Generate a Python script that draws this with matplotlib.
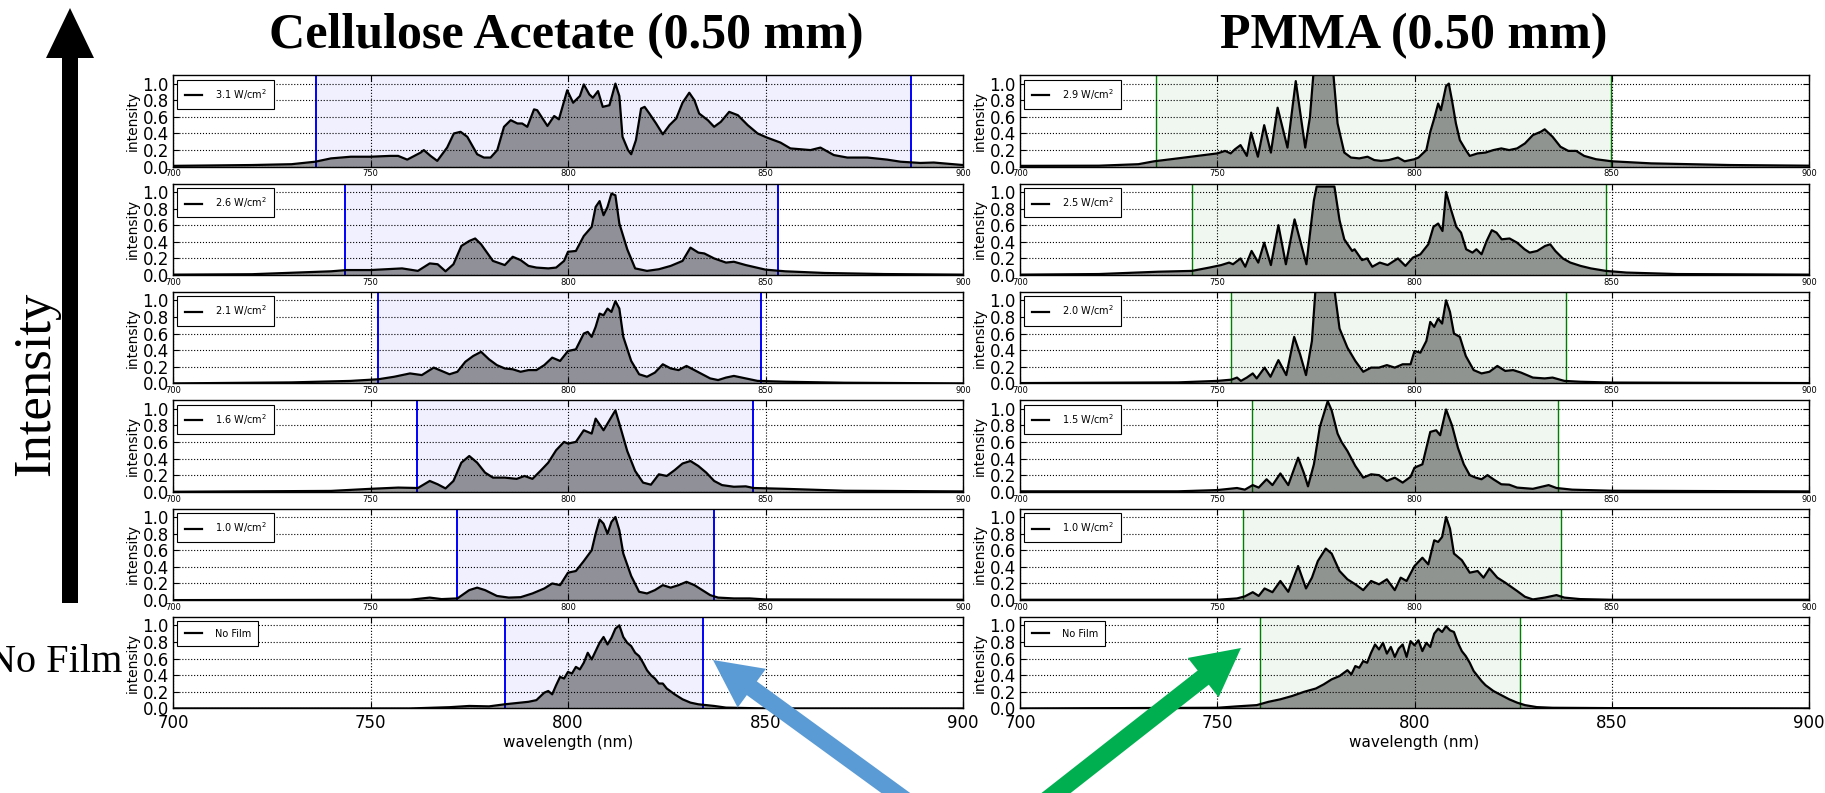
import numpy as np
import matplotlib
matplotlib.use('Agg')
import matplotlib.pyplot as plt
from matplotlib.patches import FancyArrow

# Emission spectra, (wavelength nm, normalised intensity)
# Cellulose acetate film, top row = highest power
ca_31 = [(700, 0.01), (710, 0.015), (720, 0.02), (730, 0.03), (736, 0.06), (740, 0.10), (745, 0.12),
         (750, 0.12), (755, 0.13), (757, 0.13), (759.3, 0.085), (762.7, 0.17), (763.5, 0.20), (765.2, 0.13),
         (766.9, 0.07), (769.4, 0.23), (771.1, 0.40), (772.8, 0.42), (774.5, 0.36), (777, 0.15), (778.7, 0.11),
         (780.4, 0.11), (782.1, 0.20), (783.8, 0.48), (785.5, 0.56), (787.2, 0.52), (788.4, 0.52), (789.7, 0.48),
         (791.4, 0.69), (792.2, 0.68), (794.8, 0.49), (796.5, 0.61), (797.7, 0.57), (798.6, 0.72), (799.8, 0.92),
         (801.3, 0.77), (803, 0.85), (804, 0.99), (805.4, 0.87), (806.3, 0.83), (807.6, 0.91), (808.8, 0.72),
         (810.5, 0.74), (812, 1.0), (813, 0.85), (813.8, 0.36), (815.2, 0.20), (816, 0.15), (817.2, 0.32),
         (818.5, 0.70), (819.4, 0.72), (820.6, 0.64), (822.3, 0.52), (824, 0.39), (825.7, 0.50), (827.4, 0.58),
         (829, 0.77), (830.7, 0.89), (832, 0.80), (833.2, 0.64), (835.4, 0.56), (837, 0.48), (838.7, 0.54),
         (840.8, 0.66), (843, 0.62), (845.5, 0.50), (848, 0.40), (850.4, 0.35), (853.8, 0.29), (856.3, 0.22),
         (861.4, 0.20), (863.9, 0.23), (867.3, 0.14), (870.7, 0.11), (875.8, 0.11), (880.8, 0.085),
         (884.2, 0.06), (889.2, 0.045), (892.6, 0.05), (900, 0.02)]
ca_26 = [(700, 0.005), (720, 0.01), (740, 0.045), (744, 0.06), (750, 0.06), (758, 0.08), (762, 0.05),
         (765, 0.14), (767, 0.13), (769, 0.045), (771, 0.13), (773, 0.35), (775, 0.41), (776.5, 0.44),
         (778, 0.37), (781, 0.17), (784, 0.12), (786, 0.22), (788, 0.18), (790, 0.11), (792, 0.09), (795, 0.08),
         (797, 0.09), (799, 0.17), (800, 0.28), (802, 0.29), (804, 0.47), (806, 0.58), (807, 0.82), (808, 0.89),
         (809, 0.72), (810, 0.82), (811, 0.98), (812, 0.96), (813, 0.62), (815, 0.31), (817, 0.08), (820, 0.05),
         (823, 0.07), (826, 0.11), (829, 0.17), (831, 0.33), (833, 0.27), (834.5, 0.26), (837, 0.20),
         (840, 0.15), (842, 0.16), (845, 0.12), (850, 0.065), (855, 0.045), (865, 0.025), (880, 0.012),
         (900, 0.005)]
ca_21 = [(700, 0.0), (730, 0.012), (745, 0.03), (752, 0.05), (756, 0.08), (760, 0.12), (763, 0.10),
         (766, 0.19), (768, 0.15), (770, 0.11), (772, 0.14), (774, 0.26), (776, 0.33), (778, 0.38), (780, 0.29),
         (782, 0.22), (784, 0.18), (786, 0.17), (788, 0.14), (790, 0.16), (792, 0.16), (794, 0.22), (796, 0.31),
         (798, 0.27), (800, 0.39), (802, 0.41), (804, 0.60), (805, 0.62), (806, 0.56), (807, 0.68), (808, 0.84),
         (809, 0.82), (810, 0.90), (811, 0.86), (812, 0.99), (813, 0.90), (814, 0.56), (816, 0.27), (818, 0.11),
         (820, 0.08), (822, 0.13), (824, 0.23), (826, 0.18), (828, 0.16), (830, 0.21), (832, 0.16), (834, 0.11),
         (836, 0.06), (838, 0.04), (840, 0.07), (842, 0.09), (844, 0.07), (848, 0.03), (855, 0.02),
         (870, 0.008), (900, 0.0)]
ca_16 = [(700, 0.0), (740, 0.01), (750, 0.035), (757, 0.05), (762, 0.045), (765, 0.13), (767, 0.09),
         (769, 0.04), (771, 0.13), (773, 0.35), (775, 0.43), (777, 0.35), (779, 0.23), (781, 0.17), (784, 0.17),
         (787, 0.155), (789, 0.19), (791, 0.155), (793, 0.25), (795, 0.35), (797, 0.50), (799, 0.60),
         (800, 0.58), (802, 0.60), (804, 0.74), (806, 0.70), (807, 0.88), (809, 0.74), (811, 0.90), (812, 0.98),
         (813, 0.82), (815, 0.49), (817, 0.25), (819, 0.11), (821, 0.085), (823, 0.21), (825, 0.19),
         (827, 0.26), (829, 0.34), (831, 0.37), (833, 0.31), (835, 0.23), (837, 0.13), (839, 0.08), (842, 0.06),
         (845, 0.065), (847, 0.045), (855, 0.035), (870, 0.012), (900, 0.004)]
ca_10 = [(700, 0.0), (760, 0.004), (765, 0.03), (768, 0.012), (772, 0.02), (775, 0.12), (777, 0.15),
         (779, 0.12), (782, 0.05), (785, 0.03), (788, 0.035), (791, 0.08), (794, 0.14), (796, 0.20),
         (798, 0.18), (800, 0.33), (802, 0.35), (804, 0.47), (806, 0.60), (807, 0.80), (808, 0.97), (809, 0.92),
         (810, 0.80), (811, 0.94), (812, 1.0), (813, 0.84), (814, 0.56), (816, 0.29), (818, 0.10), (820, 0.08),
         (822, 0.12), (824, 0.18), (826, 0.15), (828, 0.18), (830, 0.22), (832, 0.18), (834, 0.12),
         (836, 0.06), (838, 0.03), (842, 0.02), (846, 0.02), (850, 0.008), (900, 0.004)]
ca_00 = [(700, 0.0), (760, 0.0), (770, 0.015), (775, 0.03), (780, 0.025), (784, 0.05), (788, 0.07),
         (790, 0.08), (792, 0.10), (794, 0.19), (795, 0.21), (796, 0.17), (797, 0.28), (798, 0.38), (799, 0.36),
         (800, 0.44), (801, 0.42), (802, 0.50), (803, 0.47), (804, 0.55), (805, 0.67), (806, 0.59), (807, 0.69),
         (808, 0.79), (809, 0.86), (810, 0.77), (811, 0.85), (812, 0.96), (813, 1.0), (814, 0.86), (815, 0.79),
         (816, 0.75), (817, 0.67), (818, 0.63), (819, 0.55), (820, 0.46), (821, 0.40), (822, 0.36), (823, 0.30),
         (824, 0.30), (825, 0.24), (827, 0.17), (829, 0.11), (831, 0.07), (833, 0.05), (835, 0.04), (837, 0.03),
         (840, 0.01), (850, 0.0), (900, 0.0)]

# PMMA film
pm_29 = [(700, 0.01), (720, 0.012), (730, 0.03), (734, 0.065), (740, 0.10), (745, 0.13), (750, 0.16),
         (752, 0.19), (753.4, 0.16), (754.5, 0.21), (755.9, 0.26), (757.5, 0.13), (758.6, 0.41), (760.3, 0.12),
         (761.9, 0.50), (763.6, 0.17), (765.3, 0.71), (767.8, 0.23), (769.9, 1.03), (772.3, 0.23),
         (773.5, 0.60), (774.6, 1.25), (779.2, 1.25), (780.5, 0.52), (782.2, 0.17), (783.9, 0.11), (786, 0.10),
         (788.1, 0.12), (789.8, 0.08), (791.5, 0.07), (793.5, 0.08), (795.8, 0.11), (797.5, 0.065), (800, 0.09),
         (801, 0.11), (803, 0.20), (804, 0.42), (805, 0.58), (806, 0.76), (806.7, 0.68), (808, 0.97),
         (808.7, 1.0), (809.5, 0.80), (810.5, 0.52), (811.5, 0.32), (813, 0.20), (814, 0.13), (816, 0.16),
         (818, 0.17), (820, 0.20), (822, 0.22), (824, 0.20), (826, 0.22), (828, 0.28), (830, 0.38), (832, 0.42),
         (833, 0.45), (835, 0.36), (837, 0.24), (839, 0.19), (841, 0.19), (843, 0.13), (846, 0.09),
         (850, 0.065), (860, 0.04), (880, 0.02), (900, 0.012)]
pm_25 = [(700, 0.005), (720, 0.012), (735, 0.04), (743.6, 0.05), (748, 0.09), (751, 0.12), (753, 0.15),
         (754, 0.13), (755.9, 0.20), (757.1, 0.10), (758.7, 0.29), (760.4, 0.15), (761.9, 0.39), (763.6, 0.12),
         (765.5, 0.60), (767.4, 0.13), (769.6, 0.67), (772.6, 0.13), (774.5, 0.90), (775.2, 1.065),
         (779.7, 1.065), (781, 0.66), (782.2, 0.43), (784.2, 0.29), (784.8, 0.31), (786.7, 0.18), (788, 0.20),
         (789.3, 0.10), (791.2, 0.15), (793.2, 0.12), (795.8, 0.20), (797.7, 0.11), (799.6, 0.21),
         (801.5, 0.25), (803.5, 0.37), (804.8, 0.58), (806, 0.62), (807.1, 0.53), (808, 1.0), (809.3, 0.78),
         (810.6, 0.58), (811.8, 0.51), (813.1, 0.31), (814.7, 0.27), (815.7, 0.31), (817, 0.25), (818.3, 0.41),
         (819.6, 0.54), (820.8, 0.51), (822.1, 0.43), (824.1, 0.44), (826, 0.39), (827.9, 0.31), (829.2, 0.27),
         (831.1, 0.29), (833.1, 0.35), (834.4, 0.37), (835.7, 0.29), (837.6, 0.20), (839.5, 0.15),
         (842.1, 0.11), (844.7, 0.08), (848.5, 0.05), (853.7, 0.03), (866.5, 0.012), (900, 0.005)]
pm_20 = [(700, 0.004), (740, 0.012), (750, 0.03), (753.6, 0.045), (755, 0.07), (756, 0.03), (757.5, 0.07),
         (759, 0.12), (760, 0.06), (762, 0.19), (763.5, 0.08), (765.5, 0.28), (767.5, 0.10), (769.5, 0.56),
         (771, 0.35), (772.5, 0.10), (774, 0.51), (775, 1.2), (779.5, 1.2), (781, 0.66), (783, 0.43),
         (785, 0.27), (787, 0.14), (789, 0.19), (791, 0.19), (793, 0.22), (795, 0.19), (797, 0.23), (799, 0.23),
         (800, 0.39), (801.5, 0.37), (803, 0.51), (804, 0.74), (805, 0.68), (806, 0.78), (807, 0.72),
         (808, 1.0), (809, 0.86), (810, 0.60), (811.5, 0.56), (813, 0.33), (815, 0.16), (817, 0.12), (819, 0.14),
         (821, 0.21), (823, 0.15), (825, 0.16), (827, 0.13), (830, 0.07), (833, 0.06), (835, 0.07), (838, 0.03),
         (842, 0.02), (850, 0.01), (900, 0.004)]
pm_15 = [(700, 0.005), (740, 0.005), (750, 0.02), (755, 0.045), (757, 0.025), (759, 0.08), (760.5, 0.05),
         (762.5, 0.15), (764, 0.08), (766, 0.22), (768, 0.08), (770.5, 0.41), (772, 0.22), (773, 0.065),
         (774.5, 0.33), (776, 0.78), (778, 1.09), (779, 0.98), (780.5, 0.70), (781.5, 0.60), (783, 0.49),
         (785, 0.31), (787, 0.17), (789, 0.21), (791, 0.20), (793, 0.13), (795, 0.17), (797, 0.11), (799, 0.18),
         (800, 0.29), (802, 0.33), (804, 0.72), (805.5, 0.74), (806.5, 0.68), (808, 0.99), (809.5, 0.80),
         (811, 0.53), (812.5, 0.33), (814, 0.20), (815.5, 0.17), (817, 0.15), (818.5, 0.20), (820, 0.15),
         (822, 0.09), (824, 0.085), (826, 0.05), (830, 0.035), (834, 0.08), (836, 0.045), (840, 0.025),
         (850, 0.012), (900, 0.004)]
pm_10 = [(700, 0.004), (750, 0.004), (755, 0.02), (757, 0.045), (759, 0.095), (760.5, 0.05), (762, 0.14),
         (764, 0.095), (766, 0.23), (768, 0.10), (770.5, 0.41), (772.5, 0.14), (774, 0.27), (775.5, 0.47),
         (777.5, 0.62), (779, 0.56), (781, 0.35), (783, 0.25), (785, 0.19), (787, 0.12), (789, 0.23),
         (791, 0.19), (793, 0.25), (795, 0.12), (796.5, 0.27), (798, 0.23), (800, 0.41), (802, 0.51),
         (803.5, 0.43), (805, 0.72), (806, 0.70), (807, 0.76), (808, 1.0), (809, 0.86), (810, 0.56), (812, 0.48),
         (814, 0.33), (816, 0.35), (817.5, 0.27), (819, 0.38), (821, 0.27), (823, 0.21), (826, 0.11),
         (828, 0.04), (830, 0.008), (833, 0.03), (836, 0.06), (838, 0.03), (842, 0.012), (850, 0.004),
         (900, 0.004)]
pm_00 = [(700, 0.0), (750, 0.008), (755, 0.025), (760, 0.04), (763, 0.08), (766, 0.11), (769, 0.15),
         (772, 0.20), (775, 0.24), (777, 0.29), (779, 0.35), (781, 0.39), (783, 0.46), (784, 0.41), (785, 0.51),
         (786, 0.49), (787, 0.57), (788, 0.55), (789, 0.67), (790, 0.77), (791, 0.71), (792, 0.79), (793, 0.66),
         (794, 0.74), (795, 0.62), (796, 0.72), (797, 0.77), (798, 0.62), (799, 0.81), (800, 0.76), (801, 0.82),
         (802, 0.69), (803, 0.79), (804, 0.74), (805, 0.90), (806, 0.96), (807, 0.92), (808, 0.99), (809, 0.94),
         (810, 0.92), (811, 0.79), (812, 0.69), (813, 0.63), (814, 0.55), (815, 0.45), (816, 0.39), (817, 0.33),
         (818, 0.28), (820, 0.21), (822, 0.16), (824, 0.11), (826, 0.07), (828, 0.04), (831, 0.016),
         (835, 0.008), (850, 0.004), (900, 0.0)]

ca_spectra = [ca_31, ca_26, ca_21, ca_16, ca_10, ca_00]
pm_spectra = [pm_29, pm_25, pm_20, pm_15, pm_10, pm_00]
ca_labels = ['3.1 W/cm$^2$', '2.6 W/cm$^2$', '2.1 W/cm$^2$', '1.6 W/cm$^2$', '1.0 W/cm$^2$', 'No Film']
pm_labels = ['2.9 W/cm$^2$', '2.5 W/cm$^2$', '2.0 W/cm$^2$', '1.5 W/cm$^2$', '1.0 W/cm$^2$', 'No Film']
# integration band edges (nm)
ca_bands = [(736.3, 886.8), (743.5, 853.1), (752.0, 848.9), (761.7, 846.8), (771.8, 837.0), (784.0, 834.2)]
pm_bands = [(734.4, 849.7), (743.6, 848.6), (753.6, 838.3), (758.9, 836.5), (756.5, 837.1), (760.8, 826.7)]
x_ticks = [700, 750, 800, 850, 900]
y_ticks = [0.0, 0.2, 0.4, 0.6, 0.8, 1.0]

W, H = 1825, 793
fig = plt.figure(figsize=(W / 100, H / 100), dpi=100)

col_x = [173, 1020]
col_w = [790, 789]
row_top0, row_step, row_h = 75.3, 108.35, 91.4


def draw_panel(ax, spectrum, band, label, tint, bottom):
    wl = [p[0] for p in spectrum]
    inten = [p[1] for p in spectrum]
    ax.axvspan(band[0], band[1], color=tint, alpha=0.06, lw=0, zorder=0)
    for edge in band:
        ax.axvline(edge, color=tint, lw=1.4 if tint == 'b' else 1.0, zorder=1)
    ax.fill_between(wl, inten, color='k', alpha=0.4, lw=0, zorder=1)
    ax.plot(wl, inten, color='k', lw=1.6, label=label, zorder=3)
    ax.set_xlim(700, 900)
    ax.set_ylim(0, 1.1)
    ax.set_xticks(x_ticks)
    ax.set_yticks(y_ticks)
    ax.yaxis.set_major_formatter('{x:.1f}')
    ax.grid(True, color='k', ls=':', lw=0.8)
    ax.tick_params(direction='in', top=True, right=True, length=4, width=0.8)
    ax.tick_params(axis='y', labelsize=12, pad=3)
    if bottom:
        ax.tick_params(axis='x', labelsize=12, pad=4)
        ax.set_xlabel('wavelength (nm)', fontsize=11, labelpad=2)
    else:
        ax.tick_params(axis='x', labelsize=6, pad=2)
    ax.set_ylabel('intensity', fontsize=10, labelpad=2)
    for s in ax.spines.values():
        s.set_linewidth(1.0)
    leg = ax.legend(loc='upper left', fontsize=7, fancybox=False, edgecolor='k', framealpha=1,
                    handlelength=1.8, handletextpad=1.3, borderpad=0.75, borderaxespad=0.45)
    leg.get_frame().set_linewidth(0.8)


for col, (spectra, labels, bands, tint) in enumerate([(ca_spectra, ca_labels, ca_bands, 'b'),
                                                       (pm_spectra, pm_labels, pm_bands, 'g')]):
    for row in range(6):
        top = row_top0 + row * row_step
        rect = [col_x[col] / W, 1 - (top + row_h) / H, col_w[col] / W, row_h / H]
        ax = fig.add_axes(rect)
        draw_panel(ax, spectra[row], bands[row], labels[row], tint, row == 5)

# annotation layer in pixel units
ov = fig.add_axes([0, 0, 1, 1], zorder=10)
ov.set_xlim(0, W)
ov.set_ylim(H, 0)
ov.axis('off')
ov.patch.set_visible(False)

serif = 'Liberation Serif'
ov.text(566, 36, 'Cellulose Acetate (0.50 mm)', ha='center', va='center', fontsize=36,
        fontweight='bold', family=serif)
ov.text(1414, 36, 'PMMA (0.50 mm)', ha='center', va='center', fontsize=36,
        fontweight='bold', family=serif)
ov.text(36, 384, 'Intensity', ha='center', va='center', rotation=90, fontsize=38, family=serif)
ov.text(122, 662, 'No Film', ha='right', va='center', fontsize=29, family=serif)

ov.add_patch(FancyArrow(70, 603, 0, -595, width=16, head_width=48, head_length=50,
                        length_includes_head=True, color='k', lw=0))
ov.add_patch(FancyArrow(926, 815, 713 - 926, 660 - 815, width=17, head_width=48, head_length=48,
                        length_includes_head=True, color='#5b9bd5', lw=0))
ov.add_patch(FancyArrow(1028, 815, 1241 - 1028, 648 - 815, width=18, head_width=50, head_length=48,
                        length_includes_head=True, color='#00b050', lw=0))

fig.savefig('out.png', dpi=100)
